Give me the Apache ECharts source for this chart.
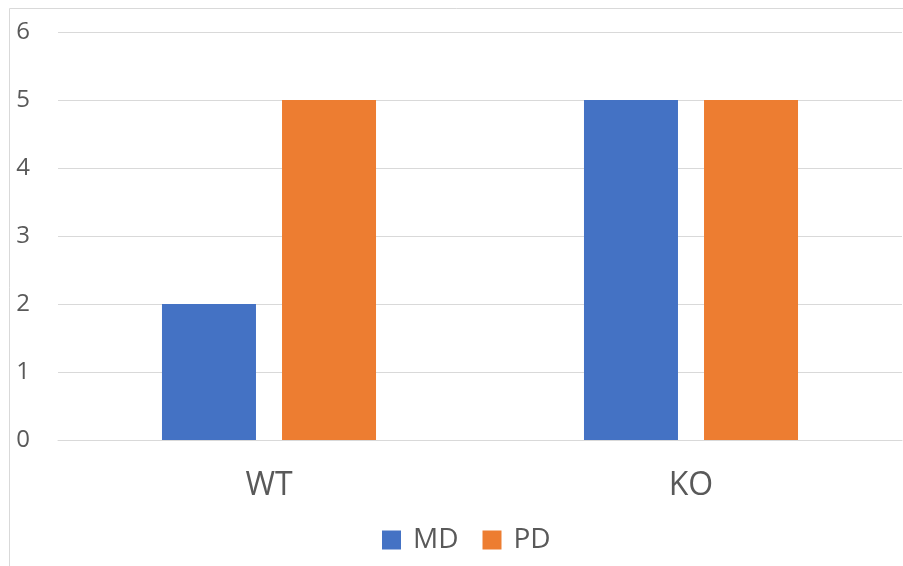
<!DOCTYPE html>
<html>
<head>
<meta charset="utf-8">
<script src="https://cdn.jsdelivr.net/npm/echarts@6/dist/echarts.min.js"></script>
<style>
  html, body { margin: 0; padding: 0; background: #fff; }
  #chart { width: 903px; height: 566px; }
</style>
</head>
<body>
<div id="chart"></div>
<script>
// Groups on the category axis
const categories = ['WT', 'KO'];
// Values per series
const mdValues = [2, 5];
const pdValues = [5, 5];
// Value axis ticks
const yTicks = [0, 1, 2, 3, 4, 5, 6];

const textColor = '#595959';
const fontFamily = '"Open Sans", "Noto Sans", sans-serif';

const chart = echarts.init(document.getElementById('chart'));
chart.setOption({
  animation: false,
  backgroundColor: '#fff',
  textStyle: { fontFamily: fontFamily },
  graphic: [{
    type: 'polyline',
    shape: { points: [[9.5, 566], [9.5, 8.5], [903, 8.5]] },
    style: { stroke: '#d9d9d9', lineWidth: 1, fill: null }
  }],
  grid: { left: 58, right: 1, top: 32, bottom: 126 },
  legend: {
    left: 382,
    top: 526,
    padding: 0,
    itemWidth: 19,
    itemHeight: 19,
    itemGap: 24,
    icon: 'rect',
    textStyle: { color: textColor, fontSize: 28, fontFamily: fontFamily, padding: [0, 0, 0, 7] },
    data: ['MD', 'PD']
  },
  xAxis: {
    type: 'category',
    data: categories,
    axisLine: { show: true, lineStyle: { color: '#d9d9d9', width: 1 } },
    axisTick: { show: false },
    axisLabel: { color: textColor, fontSize: 32, margin: 30, fontFamily: fontFamily }
  },
  yAxis: {
    type: 'value',
    min: yTicks[0],
    max: yTicks[yTicks.length - 1],
    interval: 1,
    axisLine: { show: false },
    axisTick: { show: false },
    splitLine: { lineStyle: { color: '#d9d9d9', width: 1 } },
    axisLabel: { color: textColor, fontSize: 24, margin: 28, fontFamily: fontFamily }
  },
  series: [
    {
      name: 'MD',
      type: 'bar',
      data: mdValues,
      barWidth: 94,
      barGap: '27.7%',
      itemStyle: { color: '#4472C4' }
    },
    {
      name: 'PD',
      type: 'bar',
      data: pdValues,
      barWidth: 94,
      barGap: '27.7%',
      itemStyle: { color: '#ED7D31' }
    }
  ]
});
</script>
</body>
</html>
